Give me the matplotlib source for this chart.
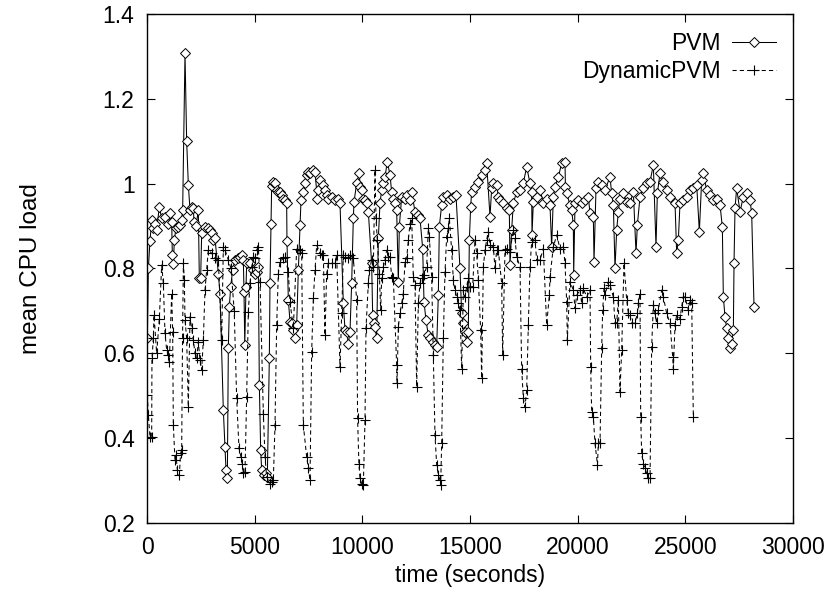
import matplotlib
matplotlib.use("Agg")
import matplotlib.pyplot as plt

plt.rcParams['font.family'] = ['Liberation Sans', 'DejaVu Sans']

# ---- PVM (time in seconds, mean CPU load) ----
pvm_t = [16, 62, 139, 217, 294, 372, 449, 573, 681, 836, 991, 1068, 1146, 1177, 1223, 1269,
         1347, 1455, 1533, 1610, 1656, 1765, 1842, 1920, 1997, 2074, 2152, 2183, 2276, 2384,
         2430, 2492, 2539, 2694, 2848, 2926, 3003, 3081, 3158, 3313, 3390, 3545, 3622, 3669,
         3731, 3777, 3824, 3886, 3978, 4087, 4242, 4319, 4396, 4474, 4505, 4540, 4598, 4629,
         4783, 4938, 5016, 5093, 5170, 5217, 5279, 5325, 5434, 5526, 5588, 5681, 5712, 5758,
         5789, 5867, 5944, 6022, 6099, 6177, 6254, 6331, 6409, 6486, 6500, 6563, 6641, 6718,
         6796, 6873, 6951, 7028, 7105, 7152, 7260, 7338, 7415, 7492, 7570, 7725, 7802, 7910,
         7957, 8034, 8158, 8266, 8344, 8421, 8576, 8731, 8886, 8963, 9118, 9195, 9273, 9350,
         9427, 9504, 9582, 9613, 9737, 9860, 9891, 9969, 10046, 10124, 10201, 10278, 10433,
         10480, 10542, 10588, 10665, 10743, 10820, 10898, 10975, 11052, 11161, 11285, 11362,
         11439, 11517, 11594, 11672, 11718, 11826, 11981, 12059, 12213, 12291, 12446, 12601,
         12678, 12802, 12864, 12956, 13065, 13142, 13266, 13374, 13452, 13529, 13576, 13684,
         13761, 13916, 14071, 14226, 14350, 14535, 14613, 14690, 14768, 14845, 14922, 14969,
         15031, 15077, 15232, 15387, 15542, 15696, 15774, 15929, 16006, 16083, 16238, 16316,
         16393, 16548, 16703, 16826, 16857, 16935, 17012, 17167, 17322, 17477, 17631, 17786,
         17864, 17880, 17941, 18096, 18251, 18405, 18560, 18715, 18792, 18870, 18947, 19102,
         19257, 19412, 19430, 19490, 19644, 19722, 19799, 19815, 19877, 20031, 20186, 20341,
         20496, 20573, 20728, 20759, 20852, 20960, 21115, 21270, 21502, 21579, 21657, 21734,
         21812, 21889, 21966, 22121, 22276, 22431, 22586, 22710, 22771, 22895, 23050, 23205,
         23360, 23514, 23638, 23700, 23824, 23979, 24134, 24288, 24521, 24598, 24675, 24753,
         24908, 25062, 25217, 25372, 25527, 25651, 25759, 25836, 25991, 26146, 26301, 26456,
         26610, 26719, 26765, 26843, 26920, 26997, 27075, 27152, 27230, 27261, 27307, 27384,
         27539, 27694, 27849, 28004, 28081, 28190]
pvm_y = [0.635, 0.80, 0.865, 0.914, 0.895, 0.906, 0.891, 0.946, 0.918, 0.922, 0.906, 0.93, 0.91, 0.832, 0.81, 0.867,
         0.895, 0.899, 0.902, 0.914, 0.938, 1.307, 1.10, 0.997, 0.938, 0.946, 0.942, 0.91, 0.90, 0.938,
         0.777, 0.777, 0.883, 0.899, 0.895, 0.891, 0.883, 0.867, 0.871, 0.788, 0.741, 0.466, 0.38, 0.325,
         0.305, 0.612, 0.71, 0.757, 0.796, 0.82, 0.824, 0.828, 0.832, 0.82, 0.745, 0.62, 0.757, 0.812,
         0.812, 0.796, 0.788, 0.792, 0.804, 0.525, 0.372, 0.325, 0.313, 0.317, 0.309, 0.588, 0.765, 0.906,
         0.994, 1.005, 1.001, 0.985, 0.981, 0.981, 0.973, 0.965, 0.961, 0.954, 0.865, 0.726, 0.675, 0.671,
         0.655, 0.635, 0.667, 0.796, 0.902, 0.961, 0.981, 1.001, 1.02, 1.028, 1.024, 1.032, 1.028, 0.965,
         0.985, 1.009, 0.997, 0.985, 0.973, 0.965, 0.969, 0.961, 0.965, 0.954, 0.718, 0.655, 0.651, 0.623,
         0.651, 0.765, 0.918, 0.957, 1.001, 1.026, 0.993, 0.985, 0.965, 0.961, 0.954, 0.934, 0.812,
         0.69, 0.671, 0.663, 0.635, 0.871, 0.954, 0.985, 1.001, 1.016, 1.052, 1.02, 0.981,
         0.965, 0.954, 0.938, 0.769, 0.899, 0.969, 0.965, 0.973, 0.961, 0.981, 0.934, 0.926,
         0.918, 0.847, 0.722, 0.678, 0.643, 0.635, 0.627, 0.62, 0.616, 0.737, 0.899, 0.950,
         0.969, 0.973, 0.965, 0.969, 0.973, 0.80, 0.694, 0.671, 0.651, 0.627, 0.651, 0.867,
         0.946, 0.981, 0.993, 1.005, 1.02, 1.032, 1.048, 0.922, 0.989, 1.001, 0.997, 0.969,
         0.961, 0.954, 0.942, 0.938, 0.808, 0.891, 0.954, 0.981, 0.985, 1.001, 1.04, 1.001,
         0.981, 0.879, 0.957, 0.969, 0.985, 0.954, 0.965, 0.950, 0.851, 0.969, 0.993, 1.016,
         1.048, 1.052, 0.993, 0.977, 0.950, 0.938, 0.902, 0.785, 0.954, 0.961, 0.954, 0.961,
         0.969, 0.93, 0.922, 0.816, 0.989, 1.005, 0.997, 0.985, 1.016, 0.977, 0.950, 0.80,
         0.891, 0.934, 0.965, 0.977, 0.957, 0.954, 0.981, 0.836, 0.902, 0.969, 0.989, 1.001,
         1.005, 1.044, 0.851, 0.977, 1.024, 1.005, 0.985, 0.969, 0.954, 0.836, 0.867, 0.954,
         0.961, 0.969, 0.985, 0.989, 0.997, 0.887, 1.009, 1.024, 0.985, 0.973, 0.961, 0.965,
         0.950, 0.898, 0.733, 0.686, 0.659, 0.635, 0.612, 0.623, 0.655, 0.812, 0.942, 0.989,
         0.934, 0.969, 0.977, 0.961, 0.93, 0.71]

# ---- DynamicPVM ----
dpvm_t = [16, 62, 139, 217, 230, 294, 325, 449, 573, 681, 759, 836, 913, 991, 1037, 1146, 1192,
          1223, 1300, 1347, 1409, 1502, 1560, 1610, 1650, 1690, 1734, 1765, 1842, 1919, 1997,
          2074, 2152, 2229, 2306, 2384, 2461, 2539, 2616, 2693, 2771, 2848, 3003, 3158, 3313,
          3468, 3545, 3622, 3777, 3900, 4050, 4164, 4272, 4365, 4427, 4474, 4551, 4628, 4706,
          4783, 4861, 4938, 5016, 5093, 5170, 5248, 5403, 5480, 5557, 5712, 5789, 5867, 5944,
          6022, 6099, 6177, 6331, 6409, 6563, 6641, 6796, 6951, 7105, 7183, 7260, 7415, 7492,
          7570, 7647, 7725, 7802, 7880, 8034, 8112, 8189, 8266, 8344, 8421, 8576, 8731, 8808,
          8963, 9041, 9118, 9195, 9350, 9428, 9582, 9737, 9780, 9840, 9891, 9969, 10046, 10124, 10170,
          10278, 10325, 10433, 10511, 10588, 10635, 10696, 10789, 10851, 10898, 10975, 11052,
          11130, 11207, 11285, 11362, 11439, 11594, 11610, 11672, 11749, 11826, 11904, 11981,
          12059, 12136, 12213, 12291, 12368, 12446, 12523, 12601, 12678, 12755, 12864, 12987,
          13065, 13111, 13220, 13297, 13374, 13452, 13529, 13607, 13638, 13684, 13761, 13839,
          13916, 13994, 14040, 14148, 14226, 14303, 14381, 14458, 14535, 14613, 14690, 14768,
          14845, 14922, 15000, 15124, 15232, 15310, 15387, 15495, 15542, 15619, 15696, 15774,
          15851, 15929, 16083, 16161, 16238, 16316, 16470, 16517, 16625, 16703, 16857, 17012,
          17090, 17167, 17322, 17399, 17477, 17554, 17631, 17709, 17786, 17864, 18019, 18096,
          18251, 18405, 18560, 18684, 18715, 18870, 19025, 19180, 19334, 19412, 19489, 19520,
          19644, 19799, 19877, 19954, 20109, 20186, 20264, 20418, 20573, 20604, 20651, 20728,
          20805, 20920, 20960, 21038, 21115, 21161, 21223, 21270, 21425, 21502, 21657, 21734,
          21812, 21889, 21966, 22044, 22152, 22276, 22354, 22431, 22508, 22663, 22771, 22818,
          22895, 22926, 22973, 23050, 23127, 23205, 23282, 23360, 23437, 23514, 23592, 23669,
          23747, 23901, 23979, 24134, 24288, 24412, 24443, 24521, 24598, 24753, 24830, 24908,
          24985, 25140, 25217, 25295, 25372]
dpvm_y = [0.502, 0.454, 0.403, 0.403, 0.588, 0.635, 0.69, 0.60, 0.682, 0.808, 0.765, 0.647, 0.608, 0.596, 0.58, 0.741, 0.651,
          0.431, 0.348, 0.36, 0.325, 0.313, 0.364, 0.372, 0.635, 0.812, 0.773, 0.679, 0.635, 0.474, 0.686,
          0.659, 0.631, 0.60, 0.588, 0.627, 0.584, 0.561, 0.631, 0.749, 0.796, 0.844, 0.836, 0.824, 0.82,
          0.631, 0.851, 0.844, 0.82, 0.80, 0.70, 0.494, 0.376, 0.356, 0.34, 0.317, 0.321, 0.498, 0.698,
          0.765, 0.804, 0.828, 0.824, 0.844, 0.85, 0.769, 0.458, 0.356, 0.309, 0.293, 0.297, 0.301, 0.431,
          0.667, 0.788, 0.816, 0.824, 0.828, 0.792, 0.722, 0.659, 0.847, 0.843, 0.836, 0.431, 0.356, 0.329,
          0.301, 0.604, 0.73, 0.796, 0.855, 0.836, 0.832, 0.832, 0.643, 0.788, 0.812, 0.812, 0.812, 0.832,
          0.568, 0.694, 0.832, 0.828, 0.824, 0.832, 0.824, 0.726, 0.447, 0.34, 0.305, 0.293, 0.289, 0.443, 0.659,
          0.765, 0.796, 0.82, 0.804, 1.032, 0.918, 0.867, 0.788, 0.702, 0.777, 0.804, 0.82,
          0.843, 0.828, 0.828, 0.78, 0.777, 0.572, 0.529, 0.663, 0.694, 0.718, 0.741, 0.816,
          0.824, 0.867, 0.906, 0.918, 0.78, 0.761, 0.521, 0.718, 0.765, 0.777, 0.785, 0.804,
          0.895, 0.875, 0.78, 0.596, 0.407, 0.337, 0.313, 0.301, 0.289, 0.388, 0.635, 0.792,
          0.875, 0.895, 0.918, 0.843, 0.773, 0.749, 0.733, 0.718, 0.702, 0.564, 0.749, 0.733,
          0.757, 0.777, 0.757, 0.757, 0.867, 0.836, 0.773, 0.655, 0.541, 0.804, 0.843, 0.867,
          0.887, 0.855, 0.851, 0.80, 0.843, 0.843, 0.765, 0.596, 0.843, 0.847, 0.84, 0.891,
          0.871, 0.828, 0.804, 0.564, 0.494, 0.474, 0.513, 0.667, 0.804, 0.863, 0.867, 0.82,
          0.82, 0.847, 0.667, 0.737, 0.78, 0.851, 0.879, 0.847, 0.851, 0.812, 0.722, 0.631,
          0.769, 0.749, 0.706, 0.737, 0.749, 0.718, 0.753, 0.733, 0.749, 0.568, 0.462, 0.45,
          0.388, 0.337, 0.388, 0.388, 0.612, 0.702, 0.753, 0.737, 0.769, 0.761, 0.733, 0.671,
          0.671, 0.726, 0.51, 0.608, 0.812, 0.726, 0.694, 0.69, 0.671, 0.671, 0.694, 0.718,
          0.741, 0.45, 0.364, 0.34, 0.329, 0.317, 0.305, 0.305, 0.616, 0.714, 0.694, 0.671,
          0.702, 0.749, 0.733, 0.694, 0.671, 0.592, 0.564, 0.667, 0.69, 0.682, 0.71, 0.733,
          0.733, 0.702, 0.726, 0.718, 0.45]

x_ticks = [0, 5000, 10000, 15000, 20000, 25000, 30000]
y_ticks = [0.2, 0.4, 0.6, 0.8, 1.0, 1.2, 1.4]
y_tick_labels = ["0.2", "0.4", "0.6", "0.8", "1", "1.2", "1.4"]

fig = plt.figure(figsize=(8.31, 5.93), dpi=100)
ax = fig.add_axes([147/831, 1 - 523/593, (793 - 147)/831, (523 - 14)/593])

ax.plot(pvm_t, pvm_y, color='black', lw=0.75, marker='D', ms=4.8,
        mfc='white', mec='black', mew=0.7, label='PVM')
ax.plot(dpvm_t, dpvm_y, color='black', lw=0.75, ls=(0, (4, 3)), marker='+', ms=7,
        mew=0.8, label='DynamicPVM')

ax.set_xlim(0, 30000)
ax.set_ylim(0.2, 1.4)
ax.set_xticks(x_ticks)
ax.set_yticks(y_ticks)
ax.set_yticklabels(y_tick_labels)
ax.tick_params(direction='in', top=True, right=True, length=6, width=0.8,
               labelsize=16.5, pad=9)
for s in ax.spines.values():
    s.set_linewidth(1.0)

ax.set_xlabel('time (seconds)', fontsize=16.5, labelpad=4)
ax.set_ylabel('mean CPU load', fontsize=17.5, labelpad=44)

leg = ax.legend(loc='upper right', bbox_to_anchor=(776/831, 1 - 32/593),
                bbox_transform=fig.transFigure, frameon=False, markerfirst=False,
                numpoints=1, handlelength=1.9, handletextpad=0.5, labelspacing=0.2,
                borderpad=0, borderaxespad=0, fontsize=16.5)

fig.savefig('out.png', dpi=100)
